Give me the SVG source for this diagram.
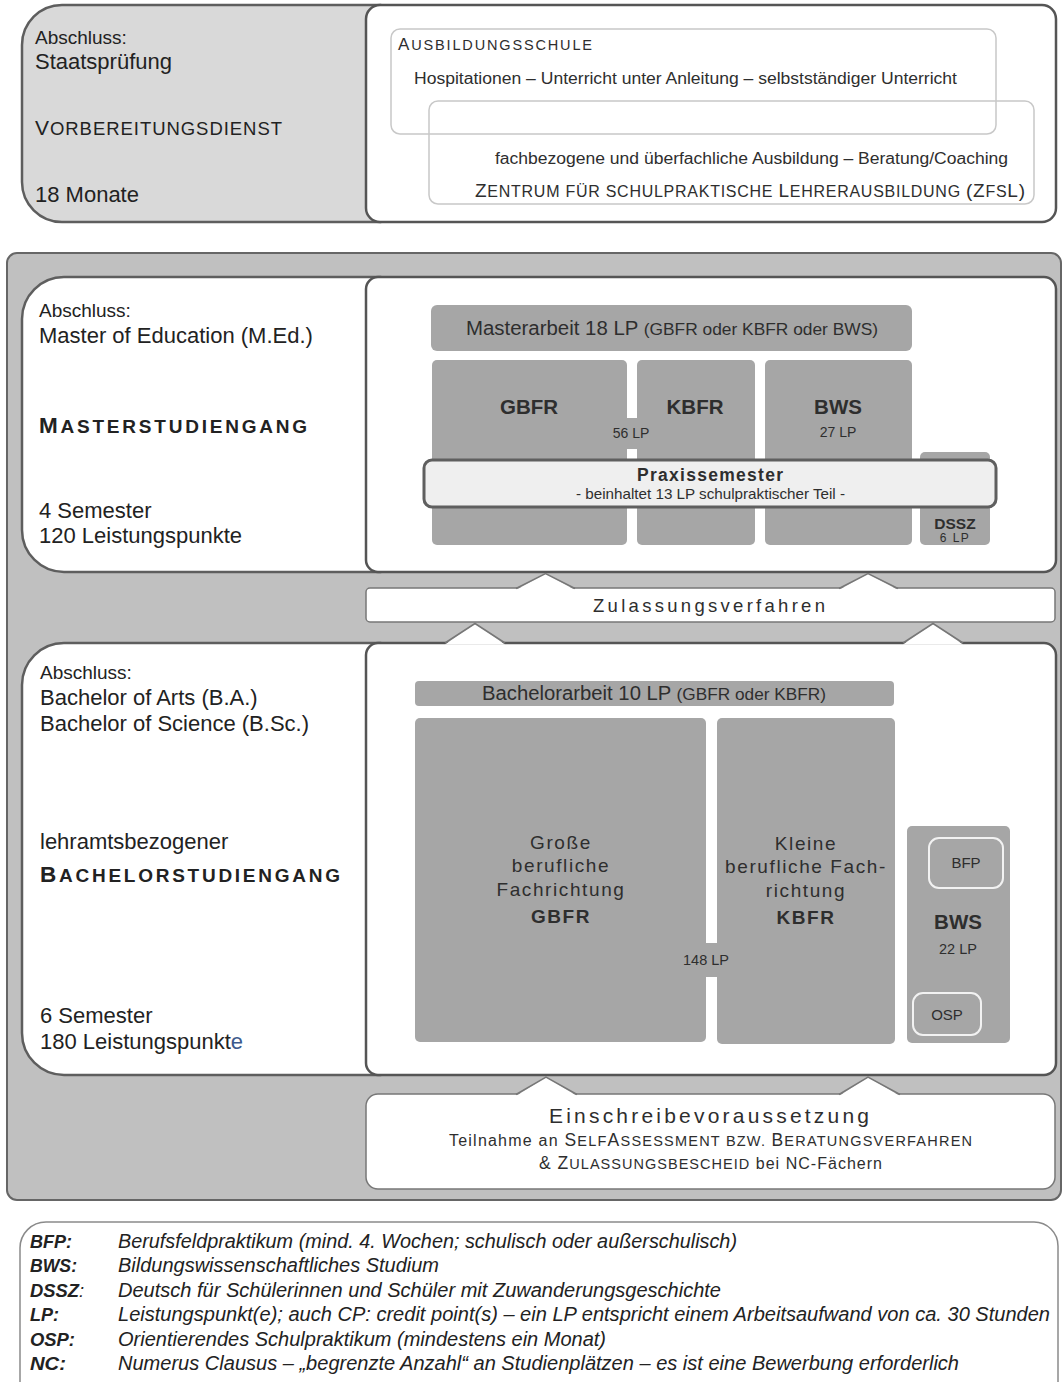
<svg xmlns="http://www.w3.org/2000/svg" width="1062" height="1382" viewBox="0 0 1062 1382">
<style>
text{font-family:"Liberation Sans",Arial,sans-serif;fill:#222}
.big{font-size:22px}
.abs{font-size:19px}
.c{text-anchor:middle}
.b{font-weight:bold}
.box{fill:#a6a6a6}
.t{fill:#2e2e2e}
.panelL{stroke:#5e5e5e;stroke-width:2.5}
.panelR{fill:#fff;stroke:#555;stroke-width:2.5}
.thin{fill:none;stroke:#c8c8c8;stroke-width:1.5}
.tri{fill:#fff;stroke:none}
.triS{fill:none;stroke:#777;stroke-width:1.5}
.leg{font-size:20px;font-style:italic}
.legb{font-size:19px;font-style:italic;font-weight:bold}
.bt{font-size:19px;letter-spacing:1.6px}
</style>
<rect width="1062" height="1382" fill="#fff"/>

<g id="vorbereitungsdienst">
<path class="panelL" fill="#d9d9d9" d="M62 5H380V222H62A40 40 0 0 1 22 182V45A40 40 0 0 1 62 5Z"/>
<rect class="panelR" x="366" y="5" width="690" height="217" rx="14"/>
<rect class="thin" x="391" y="29" width="605" height="105" rx="9"/>
<rect class="thin" x="429" y="101" width="605" height="103" rx="9"/>
<text class="abs" x="35" y="44">Abschluss:</text>
<text class="big" x="35" y="69">Staatsprüfung</text>
<text x="35" y="135" textLength="247" lengthAdjust="spacing"><tspan font-size="21">V</tspan><tspan font-size="18.5">ORBEREITUNGSDIENST</tspan></text>
<text class="big" x="35" y="202">18 Monate</text>
<text class="t" x="398" y="50" textLength="194" lengthAdjust="spacing"><tspan font-size="17">A</tspan><tspan font-size="14.5">USBILDUNGSSCHULE</tspan></text>
<text class="t" x="414" y="84" font-size="16" textLength="543" lengthAdjust="spacingAndGlyphs">Hospitationen – Unterricht unter Anleitung – selbstständiger Unterricht</text>
<text class="t" x="495" y="164" font-size="16" textLength="513" lengthAdjust="spacingAndGlyphs">fachbezogene und überfachliche Ausbildung – Beratung/Coaching</text>
<text class="t" x="475" y="197" textLength="550" lengthAdjust="spacing"><tspan font-size="19">Z</tspan><tspan font-size="16">ENTRUM FÜR SCHULPRAKTISCHE </tspan><tspan font-size="19">L</tspan><tspan font-size="16">EHRERAUSBILDUNG </tspan><tspan font-size="19">(Z</tspan><tspan font-size="16">FS</tspan><tspan font-size="19">L)</tspan></text>
</g>

<g id="studium">
<rect x="7" y="253" width="1054" height="947" rx="10" fill="#c0c0c0" stroke="#666" stroke-width="2"/>
</g>

<g id="master">
<path class="panelL" fill="#fff" d="M64 277H380V572H64A42 42 0 0 1 22 530V319A42 42 0 0 1 64 277Z"/>
<rect class="panelR" x="366" y="277" width="690" height="295" rx="12"/>
<text class="abs" x="39" y="317">Abschluss:</text>
<text class="big" x="39" y="343">Master of Education (M.Ed.)</text>
<text class="b" x="39" y="433" textLength="268" lengthAdjust="spacing"><tspan font-size="22.5">M</tspan><tspan font-size="19">ASTERSTUDIENGANG</tspan></text>
<text class="big" x="39" y="518">4 Semester</text>
<text class="big" x="39" y="543">120 Leistungspunkte</text>
</g>

<g id="masterarbeit">
<rect class="box" x="431" y="305" width="481" height="46" rx="6"/>
<text class="t" x="466" y="335" textLength="412" lengthAdjust="spacingAndGlyphs"><tspan font-size="20">Masterarbeit 18 LP </tspan><tspan font-size="17">(GBFR oder KBFR oder BWS)</tspan></text>
</g>
<g id="m-gbfr">
<rect class="box" x="432" y="360" width="195" height="185" rx="5"/>
<text class="t b c" x="529" y="414" font-size="20.5">GBFR</text>
</g>
<g id="m-kbfr">
<rect class="box" x="637" y="360" width="118" height="185" rx="5"/>
<text class="t b c" x="695" y="414" font-size="20.5">KBFR</text>
</g>
<g id="m-56lp">
<rect class="box" x="625" y="418" width="14" height="31"/>
<text class="t c" x="631" y="438" font-size="14">56 LP</text>
</g>
<g id="m-bws">
<rect class="box" x="765" y="360" width="147" height="185" rx="5"/>
<text class="t b c" x="838" y="414" font-size="20.5">BWS</text>
<text class="t c" x="838" y="437" font-size="14">27 LP</text>
</g>
<g id="m-dssz">
<rect class="box" x="920" y="452" width="70" height="93" rx="5"/>
<text class="t b c" x="955" y="529" font-size="15.5">DSSZ</text>
<text class="t c" x="955" y="542" font-size="12" letter-spacing="1.5">6 LP</text>
</g>
<g id="praxissemester">
<rect x="424" y="460" width="572" height="47" rx="8" fill="#efefef" stroke="#5f5f5f" stroke-width="3"/>
<text class="t b" x="637" y="481" font-size="17.5" textLength="146" lengthAdjust="spacing">Praxissemester</text>
<text class="t" x="576" y="499" font-size="14.5" textLength="269" lengthAdjust="spacingAndGlyphs">- beinhaltet 13 LP schulpraktischer Teil -</text>
</g>

<g id="zulassungsverfahren">
<rect x="366" y="588" width="689" height="34" rx="4" fill="#fff" stroke="#777" stroke-width="1.5"/>
<text class="t" x="593" y="612" font-size="18.5" textLength="232" lengthAdjust="spacing">Zulassungsverfahren</text>
</g>

<g id="bachelor">
<path class="panelL" fill="#fff" d="M64 643H380V1075H64A42 42 0 0 1 22 1033V685A42 42 0 0 1 64 643Z"/>
<rect class="panelR" x="366" y="643" width="690" height="432" rx="12"/>
<text class="abs" x="40" y="679">Abschluss:</text>
<text class="big" x="40" y="705">Bachelor of Arts (B.A.)</text>
<text class="big" x="40" y="731">Bachelor of Science (B.Sc.)</text>
<text class="big" x="40" y="849">lehramtsbezogener</text>
<text class="b" x="40" y="882" textLength="300" lengthAdjust="spacing"><tspan font-size="22.5">B</tspan><tspan font-size="19">ACHELORSTUDIENGANG</tspan></text>
<text class="big" x="40" y="1023">6 Semester</text>
<text class="big" x="40" y="1049">180 Leistungspunkt<tspan fill="#3c5a8c">e</tspan></text>
</g>

<g id="bachelorarbeit">
<rect class="box" x="415" y="681" width="479" height="25" rx="4"/>
<text class="t" x="482" y="700" textLength="344" lengthAdjust="spacingAndGlyphs"><tspan font-size="20">Bachelorarbeit 10 LP </tspan><tspan font-size="17">(GBFR oder KBFR)</tspan></text>
</g>
<g id="b-gbfr">
<rect class="box" x="415" y="718" width="291" height="324" rx="5"/>
<text class="t c bt" x="561" y="849">Große</text>
<text class="t c bt" x="561" y="872">berufliche</text>
<text class="t c bt" x="561" y="896">Fachrichtung</text>
<text class="t b c bt" x="561" y="923">GBFR</text>
</g>
<g id="b-kbfr">
<rect class="box" x="717" y="718" width="178" height="326" rx="5"/>
<text class="t c bt" x="806" y="850">Kleine</text>
<text class="t c bt" x="806" y="873">berufliche Fach-</text>
<text class="t c bt" x="806" y="897">richtung</text>
<text class="t b c bt" x="806" y="924">KBFR</text>
</g>
<g id="b-148lp">
<rect class="box" x="704" y="943" width="15" height="34"/>
<text class="t c" x="706" y="965" font-size="14.5">148 LP</text>
</g>
<g id="b-bws">
<rect class="box" x="907" y="826" width="103" height="217" rx="5"/>
<text class="t b c" x="958" y="929" font-size="20.5">BWS</text>
<text class="t c" x="958" y="954" font-size="14.5">22 LP</text>
</g>
<g id="b-bfp">
<rect x="929" y="838" width="74" height="50" rx="10" fill="#a6a6a6" stroke="#f2f2f2" stroke-width="2"/>
<text class="t c" x="966" y="868" font-size="15">BFP</text>
</g>
<g id="b-osp">
<rect x="913" y="993" width="68" height="42" rx="10" fill="#a6a6a6" stroke="#f2f2f2" stroke-width="2"/>
<text class="t c" x="947" y="1020" font-size="15">OSP</text>
</g>

<g id="einschreibevoraussetzung">
<rect x="366" y="1094" width="689" height="95" rx="12" fill="#fff" stroke="#777" stroke-width="1.5"/>
<text class="t" x="549" y="1123" font-size="21" textLength="320" lengthAdjust="spacing">Einschreibevoraussetzung</text>
<text class="t" x="449" y="1146" textLength="523" lengthAdjust="spacing"><tspan font-size="16">Teilnahme an </tspan><tspan font-size="17.5">S</tspan><tspan font-size="14.5">ELF</tspan><tspan font-size="17.5">A</tspan><tspan font-size="14.5">SSESSMENT BZW. </tspan><tspan font-size="17.5">B</tspan><tspan font-size="14.5">ERATUNGSVERFAHREN</tspan></text>
<text class="t" x="539" y="1169" textLength="343" lengthAdjust="spacing"><tspan font-size="17.5">&amp; Z</tspan><tspan font-size="14.5">ULASSUNGSBESCHEID</tspan><tspan font-size="16"> bei NC-Fächern</tspan></text>
</g>

<g id="connectors">
<polygon class="tri" points="516,590 545.5,573.5 575,590"/>
<polyline class="triS" points="516,588.5 545.5,573.5 575,588.5"/>
<polygon class="tri" points="839,590 868,573.5 898,590"/>
<polyline class="triS" points="839,588.5 868,573.5 898,588.5"/>
<polygon class="tri" points="445,644.5 475,623.5 505,644.5"/>
<polyline class="triS" points="445,643 475,623.5 505,643"/>
<polygon class="tri" points="903,644.5 933,623.5 963,644.5"/>
<polyline class="triS" points="903,643 933,623.5 963,643"/>
<polygon class="tri" points="516,1096 546,1077 577,1096"/>
<polyline class="triS" points="516,1094.5 546,1077 577,1094.5"/>
<polygon class="tri" points="839,1096 868,1077 900,1096"/>
<polyline class="triS" points="839,1094.5 868,1077 900,1094.5"/>
</g>

<g id="legende">
<path d="M20 1390V1248A26 26 0 0 1 46 1222H1034A24 24 0 0 1 1058 1246V1390" fill="#fff" stroke="#8a8a8a" stroke-width="1.5"/>
<text class="legb" x="30" y="1248" textLength="42" lengthAdjust="spacingAndGlyphs">BFP:</text>
<text class="leg" x="118" y="1248" textLength="619" lengthAdjust="spacingAndGlyphs">Berufsfeldpraktikum (mind. 4. Wochen; schulisch oder außerschulisch)</text>
<text class="legb" x="30" y="1272" textLength="47" lengthAdjust="spacingAndGlyphs">BWS:</text>
<text class="leg" x="118" y="1272" textLength="321" lengthAdjust="spacingAndGlyphs">Bildungswissenschaftliches Studium</text>
<text class="legb" x="30" y="1297" textLength="54" lengthAdjust="spacingAndGlyphs">DSSZ<tspan font-weight="normal">:</tspan></text>
<text class="leg" x="118" y="1297" textLength="603" lengthAdjust="spacingAndGlyphs">Deutsch für Schülerinnen und Schüler mit Zuwanderungsgeschichte</text>
<text class="legb" x="30" y="1321" textLength="29" lengthAdjust="spacingAndGlyphs">LP:</text>
<text class="leg" x="118" y="1321" textLength="932" lengthAdjust="spacingAndGlyphs">Leistungspunkt(e); auch CP: credit point(s) – ein LP entspricht einem Arbeitsaufwand von ca. 30 Stunden</text>
<text class="legb" x="30" y="1346" textLength="45" lengthAdjust="spacingAndGlyphs">OSP:</text>
<text class="leg" x="118" y="1346" textLength="488" lengthAdjust="spacingAndGlyphs">Orientierendes Schulpraktikum (mindestens ein Monat)</text>
<text class="legb" x="30" y="1370" textLength="36" lengthAdjust="spacingAndGlyphs">NC:</text>
<text class="leg" x="118" y="1370" textLength="841" lengthAdjust="spacingAndGlyphs">Numerus Clausus – „begrenzte Anzahl“ an Studienplätzen – es ist eine Bewerbung erforderlich</text>
</g>
</svg>
